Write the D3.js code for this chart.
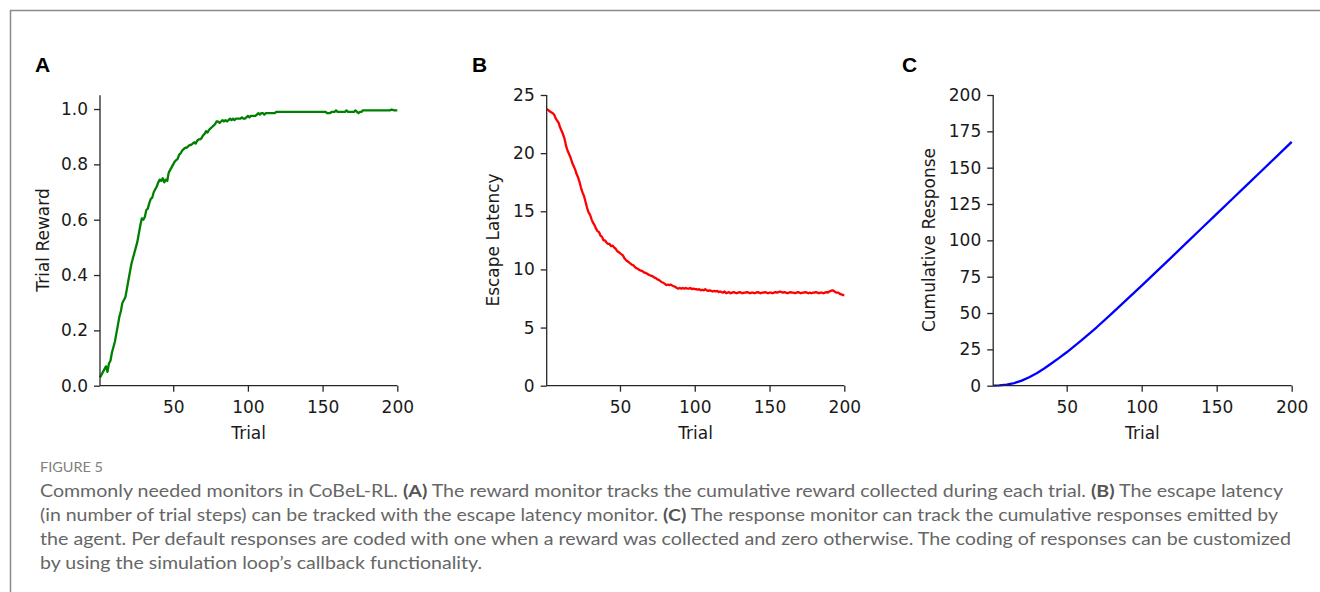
<!DOCTYPE html>
<html><head><meta charset="utf-8">
<script src="https://cdn.jsdelivr.net/npm/d3@7"></script>
<style>
html,body{margin:0;padding:0;background:#fff;}
svg{display:block;}
</style></head>
<body>
<svg id="chart" width="1320" height="592"></svg>
<script>
// ---------- DATA ----------
const trials = d3.range(1, 201);

const rewardValues = [
0.03,0.04,0.05,0.06,0.07,0.05,0.08,0.09,0.12,0.14,
0.16,0.19,0.22,0.25,0.27,0.30,0.31,0.32,0.35,0.38,
0.41,0.44,0.46,0.48,0.50,0.52,0.55,0.58,0.605,0.60,
0.61,0.635,0.64,0.66,0.675,0.68,0.70,0.71,0.72,0.735,
0.745,0.74,0.75,0.735,0.745,0.74,0.77,0.78,0.79,0.80,
0.81,0.815,0.82,0.835,0.84,0.85,0.855,0.86,0.86,0.865,
0.87,0.87,0.875,0.88,0.875,0.885,0.89,0.89,0.895,0.905,
0.91,0.92,0.915,0.925,0.93,0.935,0.94,0.945,0.955,0.955,
0.95,0.955,0.96,0.955,0.96,0.955,0.96,0.965,0.96,0.965,
0.96,0.965,0.965,0.965,0.965,0.97,0.965,0.965,0.97,0.975,
0.97,0.975,0.975,0.975,0.975,0.98,0.985,0.98,0.985,0.985,
0.98,0.985,0.985,0.985,0.985,0.985,0.985,0.985,0.99,0.99,
0.99,0.99,0.99,0.99,0.99,0.99,0.99,0.99,0.99,0.99,
0.99,0.99,0.99,0.99,0.99,0.99,0.99,0.99,0.99,0.99,
0.99,0.99,0.99,0.99,0.99,0.99,0.99,0.99,0.99,0.99,
0.99,0.99,0.985,0.985,0.985,0.99,0.99,0.99,0.995,0.99,
0.99,0.99,0.99,0.99,0.99,0.995,0.99,0.99,0.99,0.99,
0.99,0.995,0.99,0.985,0.99,0.99,0.995,0.995,0.995,0.995,
0.995,0.995,0.995,0.995,0.995,0.995,0.995,0.995,0.995,0.995,
0.995,0.995,0.995,0.995,0.995,0.998,0.997,0.995,0.995,0.995
];

const latencyValues = [
23.8,23.7,23.6,23.5,23.45,23.3,23.0,22.8,22.6,22.2,
21.9,21.6,21.2,20.6,20.2,19.9,19.6,19.2,18.9,18.6,
18.2,17.9,17.5,17.0,16.6,16.3,15.8,15.3,14.9,14.7,
14.3,14.0,13.8,13.5,13.3,13.2,12.9,12.8,12.5,12.5,
12.3,12.2,12.2,12.0,12.05,11.9,11.8,11.6,11.5,11.4,
11.3,11.2,10.95,10.8,10.7,10.6,10.5,10.4,10.35,10.2,
10.1,10.05,9.95,9.9,9.85,9.75,9.7,9.65,9.55,9.5,
9.45,9.4,9.3,9.25,9.15,9.1,9.0,8.9,8.85,8.75,
8.65,8.7,8.65,8.7,8.6,8.55,8.5,8.4,8.35,8.4,
8.35,8.4,8.35,8.4,8.35,8.35,8.4,8.3,8.35,8.3,
8.3,8.25,8.3,8.2,8.25,8.2,8.3,8.2,8.15,8.2,
8.15,8.1,8.15,8.1,8.15,8.05,8.1,8.05,8.0,8.1,
7.95,8.0,8.05,7.95,8.0,8.05,8.0,7.95,8.0,8.05,
8.0,7.95,8.0,8.0,8.05,8.0,7.95,8.0,8.0,7.95,
8.0,8.05,8.0,7.95,8.0,8.0,8.05,8.0,7.95,8.0,
8.0,7.95,8.0,8.05,8.0,8.05,8.1,8.05,8.0,8.05,
8.0,7.95,8.0,8.05,8.0,8.0,7.95,8.0,8.05,8.0,
7.95,8.0,8.0,8.05,8.0,7.95,8.0,7.95,8.0,8.0,
8.05,8.0,7.95,8.0,8.0,7.95,8.0,8.05,8.0,8.1,
8.15,8.2,8.15,8.05,8.0,8.0,7.9,7.85,7.8,7.8
];

const cumTrials = [1,5,10,15,20,25,30,35,40,45,50,60,70,80,90,100,110,120,130,140,150,160,170,180,190,200];
const cumValues = [0.03,0.25,0.73,1.8,3.5,5.8,8.6,11.8,15.4,19.1,23.0,31.4,40.2,49.6,59.2,68.9,78.7,88.5,98.4,108.3,118.2,128.1,138.0,147.9,157.8,167.7];

const xTicks = [50,100,150,200];
const rewardTicks = [0,0.2,0.4,0.6,0.8,1.0];
const latencyTicks = [0,5,10,15,20,25];
const cumTicks = [0,25,50,75,100,125,150,175,200];

const panelLetters = ["A","B","C"];
const yLabels = ["Trial Reward","Escape Latency","Cumulative Response"];
const xLabel = "Trial";

// ---------- DRAW ----------
const svg = d3.select("#chart");

// frame
svg.append("line").attr("x1",10).attr("x2",1320).attr("y1",10.5).attr("y2",10.5)
  .attr("stroke","#8a8a8a").attr("stroke-width",1.5);
svg.append("line").attr("x1",10.5).attr("x2",10.5).attr("y1",10).attr("y2",592)
  .attr("stroke","#8a8a8a").attr("stroke-width",1.5);

const axisColor = "#262626";
const tickFont = "'DejaVu Sans', sans-serif";

const panels = [
  {xr:[100,397.3], yDom:[0,1.05], yTicks:rewardTicks, fmt:d3.format(".1f"),
   xs:trials, ys:rewardValues, color:"#008000", letterX:35, labelX:43},
  {xr:[546.7,844.3], yDom:[0,25], yTicks:latencyTicks, fmt:d3.format("d"),
   xs:trials, ys:latencyValues, color:"#ff0000", letterX:472, labelX:493},
  {xr:[993.2,1291.7], yDom:[0,200], yTicks:cumTicks, fmt:d3.format("d"),
   xs:cumTrials, ys:cumValues, color:"#0000ff", letterX:902, labelX:929}
];

const yBottom = 385.7;
panels.forEach((p,i)=>{
  const x = d3.scaleLinear().domain([1,200]).range(p.xr);
  const yTop = i===0 ? 95.2 : 95;
  const y = d3.scaleLinear().domain(p.yDom).range([yBottom,yTop]);
  const g = svg.append("g");

  // line
  const line = d3.line().x((d)=>x(d[0])).y((d)=>y(d[1])).curve(d3.curveLinear);
  const pts = p.xs.map((t,k)=>[t,p.ys[k]]);
  g.append("path").datum(pts).attr("d",line).attr("fill","none")
    .attr("stroke",p.color).attr("stroke-width",2.3).attr("stroke-linejoin","round");

  // y axis
  const ya = g.append("g").attr("transform",`translate(${p.xr[0]},0)`)
    .call(d3.axisLeft(y).tickValues(p.yTicks).tickFormat(p.fmt).tickSize(6).tickPadding(6));
  // x axis
  const xa = g.append("g").attr("transform",`translate(0,${yBottom})`)
    .call(d3.axisBottom(x).tickValues(xTicks).tickFormat(d3.format("d")).tickSize(6).tickPadding(9));
  [ya,xa].forEach(a=>{
    a.select(".domain").attr("stroke",axisColor).attr("stroke-width",1.3);
    a.selectAll(".tick line").attr("stroke",axisColor).attr("stroke-width",1.3);
    a.selectAll(".tick text").attr("fill","#1a1a1a").style("font-family",tickFont).style("font-size","17px");
  });
  ya.select(".domain").attr("d",`M0,${yBottom}V${yTop}`);
  xa.select(".domain").attr("d",`M${p.xr[0]},0H${p.xr[1]}`);

  // x label
  g.append("text").attr("x",(p.xr[0]+p.xr[1])/2).attr("y",439).attr("text-anchor","middle")
    .style("font-family",tickFont).style("font-size","17px").attr("fill","#1a1a1a").text(xLabel);
  // y label
  g.append("text").attr("transform",`translate(${p.labelX+6},240) rotate(-90)`).attr("text-anchor","middle")
    .style("font-family",tickFont).style("font-size","17px").attr("fill","#1a1a1a").text(yLabels[i]);
  // panel letter
  g.append("text").attr("x",p.letterX).attr("y",72)
    .style("font-family","'Liberation Sans', Arial, sans-serif").style("font-weight","bold")
    .style("font-size","21px").attr("fill","#000").text(panelLetters[i]);
});

// ---------- CAPTION ----------
const capFont = "Lato, 'Open Sans', sans-serif";
svg.append("text").attr("x",40).attr("y",472).style("font-family",capFont)
  .style("font-size","13.5px").attr("fill","#808080").attr("textLength",63).attr("lengthAdjust","spacingAndGlyphs")
  .text("FIGURE 5");

const capLines = [
  {parts:[["Commonly needed monitors in CoBeL-RL. ",0],["(A)",1],[" The reward monitor tracks the cumulative reward collected during each trial. ",0],["(B)",1],[" The escape latency",0]], len:1243},
  {parts:[["(in number of trial steps) can be tracked with the escape latency monitor. ",0],["(C)",1],[" The response monitor can track the cumulative responses emitted by",0]], len:1238},
  {parts:[["the agent. Per default responses are coded with one when a reward was collected and zero otherwise. The coding of responses can be customized",0]], len:1251},
  {parts:[["by using the simulation loop’s callback functionality.",0]], len:442}
];
capLines.forEach((l,i)=>{
  const t = svg.append("text").attr("x",40).attr("y",497+24*i).style("font-family",capFont)
    .style("font-size","17px").attr("fill","#666")
    .attr("textLength",l.len).attr("lengthAdjust","spacingAndGlyphs");
  l.parts.forEach(pt=>{
    t.append("tspan").text(pt[0]).style("font-weight",pt[1]?"bold":"normal")
      .attr("fill",pt[1]?"#555":"#666");
  });
});
</script>
</body></html>
